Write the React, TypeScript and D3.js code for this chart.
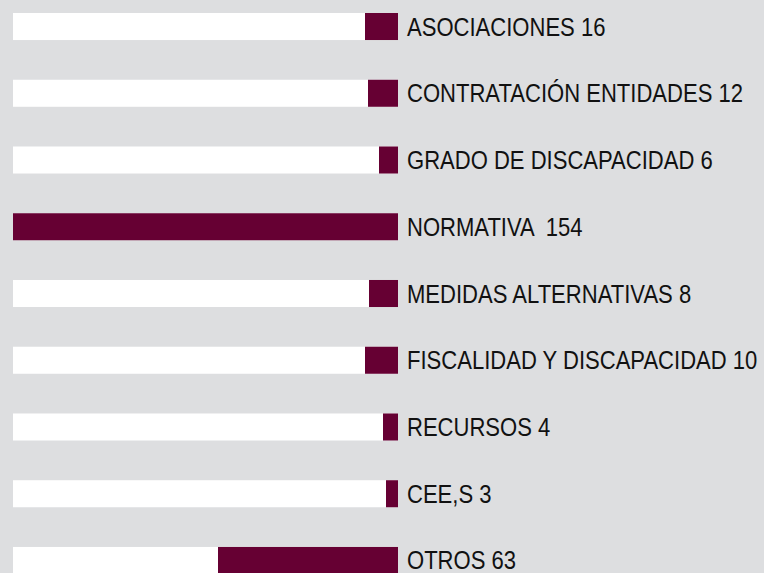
import React from "react";
import * as d3 from "d3";

// etiquetas y valores (tal como aparecen en el gráfico)
const categories = [
  "ASOCIACIONES",
  "CONTRATACIÓN ENTIDADES",
  "GRADO DE DISCAPACIDAD",
  "NORMATIVA ",
  "MEDIDAS ALTERNATIVAS",
  "FISCALIDAD Y DISCAPACIDAD",
  "RECURSOS",
  "CEE,S",
  "OTROS",
];
const counts = [16, 12, 6, 154, 8, 10, 4, 3, 63];
// longitud de barra (no es exactamente proporcional al número)
const barValues = [13.2, 12, 7.6, 154, 11.6, 13.2, 6, 4.8, 72];

const W = 764;
const H = 573;
const BG = "#dddee0";
const MAROON = "#660033";

const App = () => {
  const left = 13;
  const right = 398;
  const x = d3.scaleLinear().domain([0, 154]).range([0, right - left]);
  const y = d3
    .scaleBand()
    .domain(categories)
    .range([13, 574])
    .paddingInner(0.595)
    .paddingOuter(0);

  return (
    <svg
      width={W}
      height={H}
      style={{ position: "absolute", left: 0, top: 0, background: BG }}
    >
      <rect width={W} height={H} fill={BG} />
      {categories.map((c, i) => {
        const y0 = y(c) as number;
        const bh = y.bandwidth();
        const w = x(barValues[i]);
        return (
          <g key={c}>
            <rect x={left} y={y0} width={right - left} height={bh} fill="#ffffff" />
            <rect x={right - w} y={y0} width={w} height={bh} fill={MAROON} />
            {/* no hay Arial Narrow: se estrecha la Liberation Sans */}
            <text
              transform={`translate(${right + 9},${y0 + bh / 2 + 9}) scale(0.882,1)`}
              fontFamily="'Liberation Sans Narrow', 'Liberation Sans', Arial, sans-serif"
              fontSize={25}
              fill="#111"
              style={{ whiteSpace: "pre" }}
            >
              {`${c} ${counts[i]}`}
            </text>
          </g>
        );
      })}
    </svg>
  );
};

export default App;
